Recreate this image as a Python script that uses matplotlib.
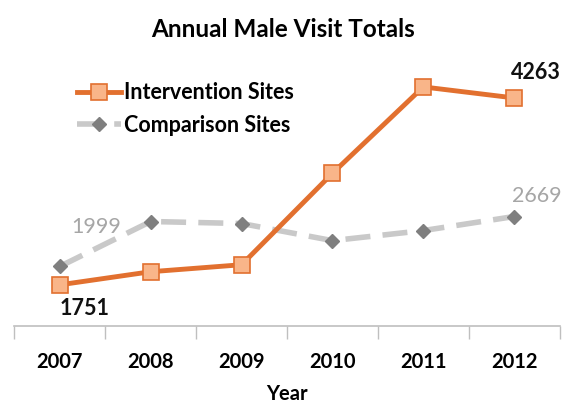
import matplotlib
matplotlib.use("Agg")
import matplotlib.pyplot as plt
import numpy as np

years = ["2007", "2008", "2009", "2010", "2011", "2012"]
intervention = [1751, 1927, 2021, 3250, 4411, 4263]
comparison = [1999, 2602, 2575, 2345, 2480, 2669]

plt.rcParams['font.family'] = ['Lato', 'DejaVu Sans']

ORANGE = "#E2702F"
ORANGE_FACE = "#F9B589"
GREY_LINE = "#C9C9C9"
GREY_MARK = "#7F7F7F"

fig = plt.figure(figsize=(5.66, 4.05), dpi=100)
ax = fig.add_axes([0.0256, 0.195, 0.963, 0.66])

x = np.arange(len(years))
ax.plot(x, comparison, color=GREY_LINE, lw=4, ls=(0, (4.5, 2.2)),
        marker="D", ms=7, mfc=GREY_MARK, mec=GREY_MARK, label="Comparison Sites", zorder=2)
ax.plot(x, intervention, color=ORANGE, lw=3.5, marker="s", ms=11,
        mfc=ORANGE_FACE, mec=ORANGE, mew=1.2, label="Intervention Sites", zorder=3)

ax.set_xlim(-0.5, len(years) - 0.5)
ax.set_ylim(1197, 4790)
ax.set_yticks([])
ax.set_xticks(x)
ax.set_xticklabels(years, fontsize=14.5, fontweight="bold")
ax.set_xticks(np.arange(-0.5, len(years)), minor=True)
ax.tick_params(axis="x", which="major", length=0, pad=19)
ax.tick_params(axis="x", which="minor", length=9, color="#BFBFBF", width=1)
for s in ["left", "right", "top"]:
    ax.spines[s].set_visible(False)
ax.spines["bottom"].set_color("#BFBFBF")
ax.spines["bottom"].set_linewidth(1.2)

ax.set_xlabel("Year", fontsize=14.5, fontweight="bold", labelpad=8)
fig.suptitle("Annual Male Visit Totals", fontsize=17.5, fontweight="bold", y=0.955)

ax.annotate(str(intervention[0]), (0, intervention[0]), xytext=(18, -17),
            textcoords="offset points", ha="center", va="center",
            fontsize=15.5, fontweight="bold", color="#111111")
ax.annotate(str(intervention[-1]), (5, intervention[-1]), xytext=(16, 18),
            textcoords="offset points", ha="center", va="center",
            fontsize=15.5, fontweight="bold", color="#111111")
ax.annotate(str(comparison[0]), (0, comparison[0]), xytext=(26, 28),
            textcoords="offset points", ha="center", va="center",
            fontsize=15.5, color="#A6A6A6")
ax.annotate(str(comparison[-1]), (5, comparison[-1]), xytext=(16, 15),
            textcoords="offset points", ha="center", va="center",
            fontsize=15.5, color="#A6A6A6")

handles, labels = ax.get_legend_handles_labels()
ax.legend(handles[::-1], labels[::-1], loc="upper left", bbox_to_anchor=(0.08, 0.985),
          frameon=False, prop={"weight": "bold", "size": 15.5},
          handlelength=2.0, handletextpad=0.15, labelspacing=0.55)

fig.savefig("out.png", dpi=100)
